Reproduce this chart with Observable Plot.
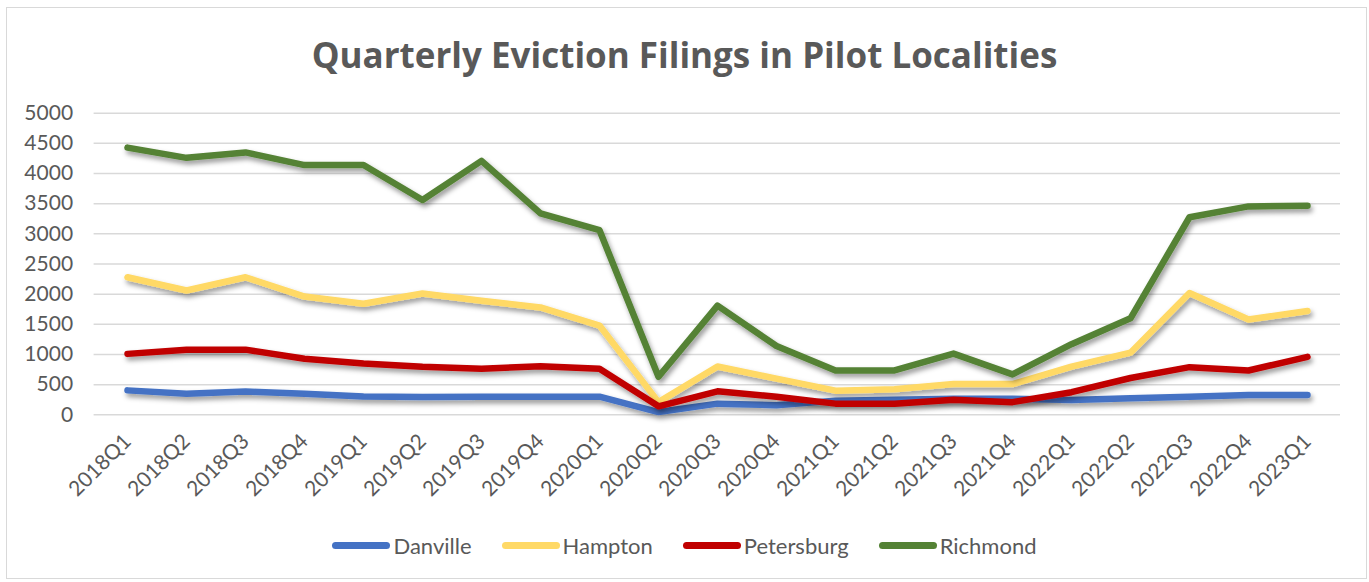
<!DOCTYPE html>
<html>
<head>
<meta charset="utf-8">
<script src="https://cdn.jsdelivr.net/npm/d3@7"></script>
<script src="https://cdn.jsdelivr.net/npm/@observablehq/plot@0.6"></script>
<style>
  html, body { margin: 0; padding: 0; background: #fff; }
  #wrap { position: relative; width: 1369px; height: 582px; font-family: Lato, "Open Sans", sans-serif; color: #595959; overflow: hidden; }
  #frame { position: absolute; left: 6px; top: 7px; width: 1361px; height: 572px; border: 1px solid #d9d9d9; box-sizing: border-box; }
  #title { position: absolute; left: 0; width: 1369px; top: 36.5px; text-align: center; font-family: "Open Sans", Lato, sans-serif; font-weight: 700; font-size: 35px; line-height: 35px; color: #595959; white-space: nowrap; }
  #chart { position: absolute; left: 0; top: 0; }
  #legend { position: absolute; left: 0; width: 1369px; top: 532px; height: 26px; display: flex; justify-content: center; align-items: center; font-size: 22px; color: #595959; }
  .item { display: flex; align-items: center; margin: 0 15px; }
  .sw { display: inline-block; width: 58px; height: 7px; border-radius: 4px; margin-right: 3px; }
</style>
</head>
<body>
<div id="wrap">
  <div id="frame"></div>
  <div id="title">Quarterly Eviction Filings in Pilot Localities</div>
  <div id="chart"></div>
  <div id="legend"></div>
</div>
<script>
const quarters = ["2018Q1","2018Q2","2018Q3","2018Q4","2019Q1","2019Q2","2019Q3","2019Q4","2020Q1","2020Q2","2020Q3","2020Q4","2021Q1","2021Q2","2021Q3","2021Q4","2022Q1","2022Q2","2022Q3","2022Q4","2023Q1"];
const seriesNames = ["Danville","Hampton","Petersburg","Richmond"];
const seriesColors = ["#4472C4","#FFD966","#C00000","#548235"];
const danville   = [405, 350, 385, 350, 305, 295, 300, 300, 300, 45, 185, 160, 235, 250, 265, 265, 245, 275, 300, 330, 330];
const hampton    = [2280, 2060, 2280, 1960, 1840, 2010, 1890, 1780, 1480, 210, 800, 600, 400, 425, 510, 510, 800, 1030, 2020, 1580, 1720];
const petersburg = [1010, 1080, 1080, 930, 850, 795, 765, 805, 765, 140, 390, 300, 185, 185, 250, 210, 375, 610, 790, 735, 960];
const richmond   = [4430, 4260, 4350, 4140, 4140, 3560, 4210, 3340, 3060, 630, 1810, 1140, 735, 735, 1015, 670, 1170, 1600, 3275, 3455, 3465];
const yTicks = [0,500,1000,1500,2000,2500,3000,3500,4000,4500,5000];

const valuesBySeries = [danville, hampton, petersburg, richmond];
const data = [];
seriesNames.forEach((s, i) => {
  quarters.forEach((q, j) => data.push({series: s, quarter: q, value: valuesBySeries[i][j]}));
});

const svg = Plot.plot({
  width: 1369,
  height: 520,
  marginLeft: 93.6,
  marginRight: 29,
  marginTop: 112.7,
  marginBottom: 105.7,
  style: {fontFamily: "Lato, 'Open Sans', sans-serif", fontSize: "21px", color: "#595959", background: "transparent", overflow: "visible"},
  x: {type: "point", domain: quarters, padding: 0.5, label: null},
  y: {domain: [0, 5000], label: null},
  color: {domain: seriesNames, range: seriesColors},
  marks: [
    Plot.gridY(yTicks, {stroke: "#d9d9d9", strokeOpacity: 1, strokeWidth: 1.5}),
    Plot.axisY(yTicks, {tickSize: 0, tickPadding: 21, fill: "#595959", label: null, tickFormat: d => String(d)}),
    Plot.axisX({tickSize: 0, tickRotate: -45, tickPadding: 23, fill: "#595959", label: null}),
    Plot.line(data, {x: "quarter", y: "value", z: "series", stroke: "series", strokeWidth: 6.5, strokeLinecap: "round", strokeLinejoin: "round"})
  ]
});

// drop shadow like the original
const ns = "http://www.w3.org/2000/svg";
const defs = document.createElementNS(ns, "defs");
const filter = document.createElementNS(ns, "filter");
filter.setAttribute("id", "lineShadow");
filter.setAttribute("filterUnits", "userSpaceOnUse");
filter.setAttribute("x", "0"); filter.setAttribute("y", "0");
filter.setAttribute("width", "1369"); filter.setAttribute("height", "582");
const ds = document.createElementNS(ns, "feDropShadow");
ds.setAttribute("dx", "2"); ds.setAttribute("dy", "3.5");
ds.setAttribute("stdDeviation", "2.5");
ds.setAttribute("flood-color", "#000"); ds.setAttribute("flood-opacity", "0.4");
filter.appendChild(ds);
defs.appendChild(filter);
svg.insertBefore(defs, svg.firstChild);
svg.querySelectorAll('g[aria-label="line"] path').forEach(p => p.setAttribute("filter", "url(#lineShadow)"));

document.getElementById("chart").appendChild(svg);

const legend = document.getElementById("legend");
seriesNames.forEach((s, i) => {
  const it = document.createElement("div");
  it.className = "item";
  const sw = document.createElement("span");
  sw.className = "sw";
  sw.style.background = seriesColors[i];
  const tx = document.createElement("span");
  tx.textContent = s;
  it.appendChild(sw); it.appendChild(tx);
  legend.appendChild(it);
});
</script>
</body>
</html>
